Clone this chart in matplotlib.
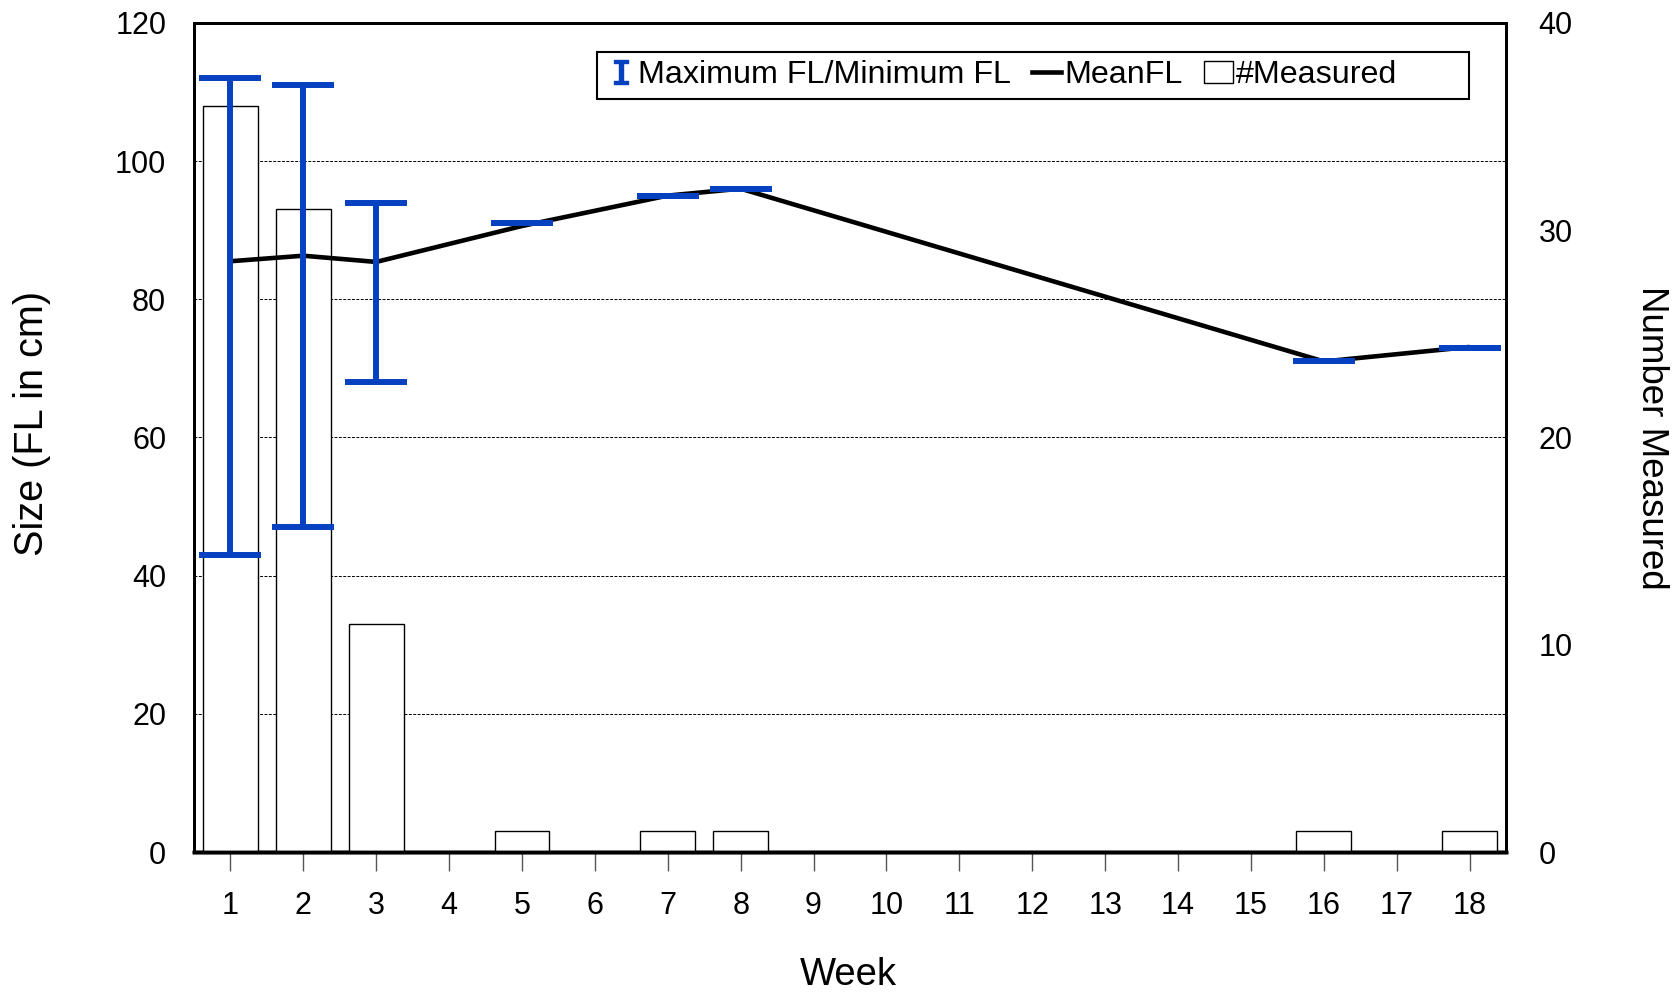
import numpy as np
from matplotlib import pyplot as plt
from matplotlib.patches import Patch, Rectangle
from matplotlib.lines import Line2D

plt.rcParams['font.family'] = ['Liberation Sans', 'DejaVu Sans']

# weeks shown on the x axis (categorical)
weeks = ["1", "2", "3", "4", "5", "6", "7", "8", "9", "10", "11", "12",
         "13", "14", "15", "16", "17", "18"]
# weeks with data
data_weeks = ["1", "2", "3", "5", "7", "8", "16", "18"]
mean_fl = [85.5, 86.3, 85.4, 90.6, 95.0, 96.0, 71.0, 73.1]
max_fl = [112, 111, 94, 91, 95, 96, 71, 73]
min_fl = [43, 47, 68, 91, 95, 96, 71, 73]
n_measured = [36, 31, 11, 1, 1, 1, 1, 1]

BLUE = "#0541C0"

x_pos = [weeks.index(w) for w in data_weeks]

fig = plt.figure(figsize=(16.79, 9.92), dpi=100)
ax = fig.add_axes([0.1155, 0.141, 0.7815, 0.836])
ax2 = ax.twinx()   # bars, right axis
ax3 = ax.twinx()   # line and error bars, on top, same scale as ax

ax.set_zorder(1)
ax2.set_zorder(2)
ax3.set_zorder(3)
ax2.patch.set_visible(False)
ax3.patch.set_visible(False)

# grid on bottom axis
ax.set_ylim(0, 120)
ax.set_yticks(np.arange(0, 121, 20))
ax.set_xlim(-0.5, len(weeks) - 0.5)
ax.set_xticks(range(len(weeks)))
ax.set_xticklabels(weeks)
for g in range(20, 101, 20):
    ax.axhline(g, color="black", lw=0.7, ls=(0, (3, 1.5)), zorder=0)

ax2.bar(x_pos, n_measured, width=0.75, color="white", edgecolor="black", lw=1.0)
ax2.set_ylim(0, 40)
ax2.set_yticks(np.arange(0, 41, 10))

ax3.set_ylim(0, 120)
ax3.plot(x_pos, mean_fl, color="black", lw=3.3, solid_capstyle="butt")
span = np.array(max_fl) - np.array(min_fl)
ax3.errorbar(x_pos, min_fl, yerr=[np.zeros_like(span), span], fmt="none",
             ecolor=BLUE, elinewidth=4.3, capsize=22, capthick=4.3)
ax3.set_yticks([])

for a in (ax, ax2, ax3):
    for s in a.spines.values():
        s.set_linewidth(2)
        s.set_color("black")
    a.spines["bottom"].set_linewidth(2.5)

ax.tick_params(axis="y", length=0, labelsize=22, pad=20)
ax.tick_params(axis="x", length=14, width=1, color="#555555", labelsize=22, pad=14)
ax2.tick_params(axis="y", length=0, labelsize=22, pad=23.5)
ax3.tick_params(length=0)

ax.set_xlabel("Week", fontsize=27.5, va="center")
ax.xaxis.set_label_coords(0.499, -0.148)
ax.set_ylabel("Size (FL in cm)", fontsize=28.5, va="center")
ax.yaxis.set_label_coords(-0.1235, 0.517)
ax2.set_ylabel("Number Measured", fontsize=26.5, rotation=270, va="center")
ax2.yaxis.set_label_coords(1.111, 0.5)

# legend box (wider than its entries, as in the original)
ax3.add_patch(Rectangle((0.307, 0.9085), 0.665, 0.0565, transform=ax3.transAxes,
                        facecolor="white", edgecolor="black", lw=1.5, zorder=5,
                        clip_on=False))
handles = [
    Line2D([], [], color=BLUE, lw=0, marker="$\\mathtt{I}$", markersize=17),
    Line2D([], [], color="black", lw=3.3),
    Patch(facecolor="white", edgecolor="black", lw=1),
]
labels = ["Maximum FL/Minimum FL", "MeanFL", "#Measured"]
leg = ax3.legend(handles, labels, loc="center left", bbox_to_anchor=(0.303, 0.9368),
                 ncol=3, fontsize=23.2, frameon=False,
                 handlelength=0.9, handletextpad=0.1, columnspacing=0.65,
                 borderpad=0.0, borderaxespad=0.45)
leg.set_zorder(6)

fig.savefig("out.png", dpi=100)
